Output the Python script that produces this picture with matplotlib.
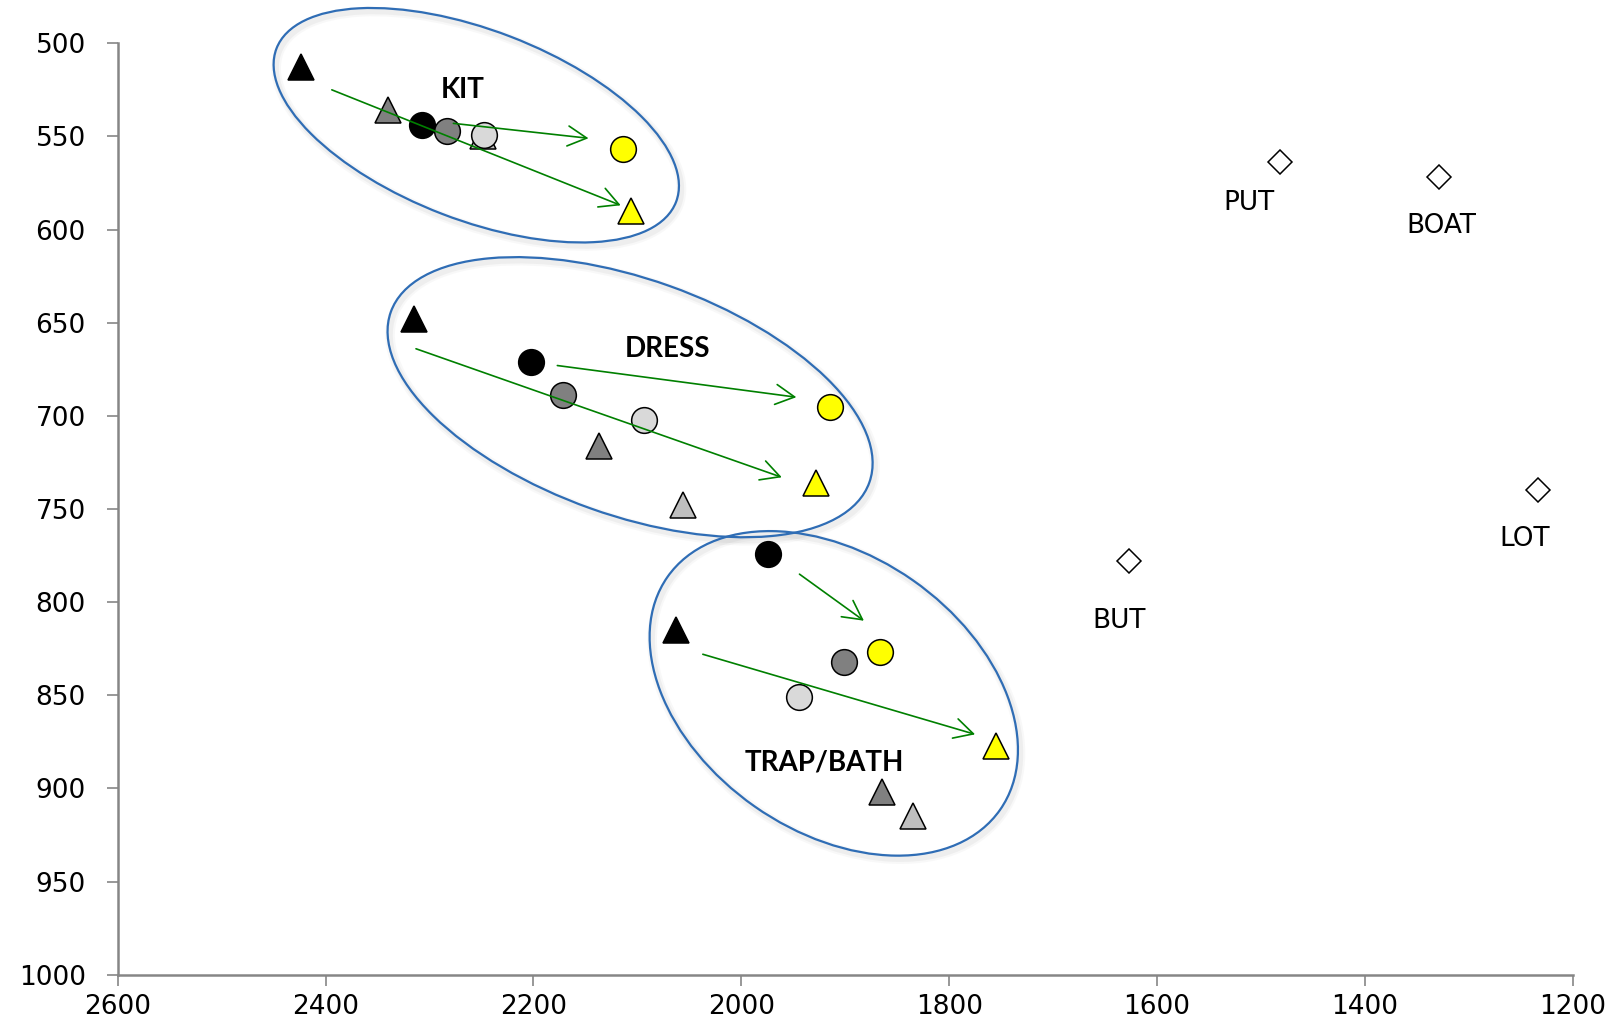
import matplotlib
matplotlib.use("Agg")
import matplotlib.pyplot as plt
import matplotlib.transforms as mtransforms
from matplotlib.patches import Ellipse

# vowel order in every series: KIT, DRESS, TRAP/BATH
vowels = ["KIT", "DRESS", "TRAP/BATH"]

# triangles (F2, F1)
tri_black_f2 = [2424, 2315, 2063]
tri_black_f1 = [513, 648, 815]
tri_dgray_f2 = [2340, 2137, 1865]
tri_dgray_f1 = [536, 716, 902]
tri_lgray_f2 = [2249, 2056, 1835]
tri_lgray_f1 = [550, 748, 915]
tri_yellow_f2 = [2106, 1928, 1755]
tri_yellow_f1 = [590, 736, 877]

# circles (F2, F1)
circ_black_f2 = [2307, 2202, 1974]
circ_black_f1 = [544, 671, 774]
circ_dgray_f2 = [2283, 2172, 1901]
circ_dgray_f1 = [547, 689, 832]
circ_lgray_f2 = [2248, 2094, 1944]
circ_lgray_f1 = [549, 702, 851]
circ_yellow_f2 = [2114, 1915, 1867]
circ_yellow_f1 = [557, 695, 827]

# reference vowels (diamonds)
ref_words = ["PUT", "BOAT", "LOT", "BUT"]
ref_f2 = [1482, 1329, 1233, 1627]
ref_f1 = [564, 572, 740, 778]

# arrows: start (F2, F1) -> end (F2, F1)
arrow_start = [(2394, 525), (2277, 543), (2313, 664), (2177, 673), (1944, 785), (2037, 828)]
arrow_end = [(2116, 587), (2147, 551), (1961, 733), (1947, 690), (1882, 810), (1775, 871)]

# group label anchors
group_label_f2 = [2268, 2071, 1920]
group_label_f1 = [525, 664, 886]

# ellipses: centre in data, semi axes in pixels, tilt in degrees
ell_center = [(2255, 544), (2107, 690), (1911, 849)]
ell_semi_px = [(214, 95), (254, 118), (203, 138)]
ell_tilt = [21, 19.6, 35]

ref_offsets = [(-22, -29), (2, -35), (-10, -35), (-7, -43)]

fig = plt.figure(figsize=(16.15, 10.35), dpi=100)
ax = fig.add_axes([0.0729, 0.0583, 0.9009, 0.8999])

ax.set_xlim(2600, 1200)
ax.set_ylim(1000, 500)
ax.set_xticks(range(2600, 1199, -200))
ax.set_yticks(range(500, 1001, 50))

axis_gray = "#868686"
for side in ["top", "right"]:
    ax.spines[side].set_visible(False)
for side in ["left", "bottom"]:
    ax.spines[side].set_color(axis_gray)
    ax.spines[side].set_linewidth(1.8)
ax.tick_params(axis="both", direction="out", length=8, width=1.2, color=axis_gray, labelsize=19)
ax.tick_params(axis="y", pad=15)
ax.tick_params(axis="x", pad=6)

# ellipses with a soft shadow
for (cx, cy), (a, b), tilt in zip(ell_center, ell_semi_px, ell_tilt):
    base = fig.dpi_scale_trans + mtransforms.ScaledTranslation(cx, cy, ax.transData)
    shadow = base + mtransforms.ScaledTranslation(0.025, -0.035, fig.dpi_scale_trans)
    for lw, al in [(7, 0.05), (4, 0.08)]:
        ax.add_patch(Ellipse((0, 0), 2 * a / 100, 2 * b / 100, angle=-tilt, transform=shadow,
                             fill=False, ec="gray", lw=lw, alpha=al, clip_on=False, zorder=1))
    ax.add_patch(Ellipse((0, 0), 2 * a / 100, 2 * b / 100, angle=-tilt, transform=base,
                         fill=False, ec="#2F6DB5", lw=1.6, clip_on=False, zorder=2))

mk = dict(linestyle="none", mec="black", mew=1.1, zorder=3)
ax.plot(tri_black_f2, tri_black_f1, marker="^", ms=18.5, mfc="black", **mk)
ax.plot(tri_dgray_f2, tri_dgray_f1, marker="^", ms=18.5, mfc="#808080", **mk)
ax.plot(tri_lgray_f2, tri_lgray_f1, marker="^", ms=18.5, mfc="#BFBFBF", **mk)
ax.plot(tri_yellow_f2, tri_yellow_f1, marker="^", ms=18.5, mfc="#FFFF00", **mk)
ax.plot(circ_black_f2, circ_black_f1, marker="o", ms=18.5, mfc="black", **mk)
ax.plot(circ_dgray_f2, circ_dgray_f1, marker="o", ms=18.5, mfc="#808080", **mk)
ax.plot(circ_lgray_f2, circ_lgray_f1, marker="o", ms=18.5, mfc="#D9D9D9", **mk)
ax.plot(circ_yellow_f2, circ_yellow_f1, marker="o", ms=18.5, mfc="#FFFF00", **mk)
ax.plot(ref_f2, ref_f1, marker="D", ms=12.5, mfc="white", **mk)

for word, x, y, off in zip(ref_words, ref_f2, ref_f1, ref_offsets):
    ax.annotate(word, (x, y), xytext=off, textcoords="offset points",
                ha="center", va="center", fontsize=19)

for s, e in zip(arrow_start, arrow_end):
    ax.annotate("", xy=e, xytext=s,
                arrowprops=dict(arrowstyle="->,head_length=0.68,head_width=0.36",
                                color="green", lw=1.2, shrinkA=0, shrinkB=0,
                                mutation_scale=20),
                zorder=4)

for name, x, y in zip(vowels, group_label_f2, group_label_f1):
    ax.text(x, y, name, ha="center", va="center", fontsize=20,
            fontweight="bold", family=["Lato", "DejaVu Sans"], zorder=5)

fig.savefig("out.png", dpi=100)
